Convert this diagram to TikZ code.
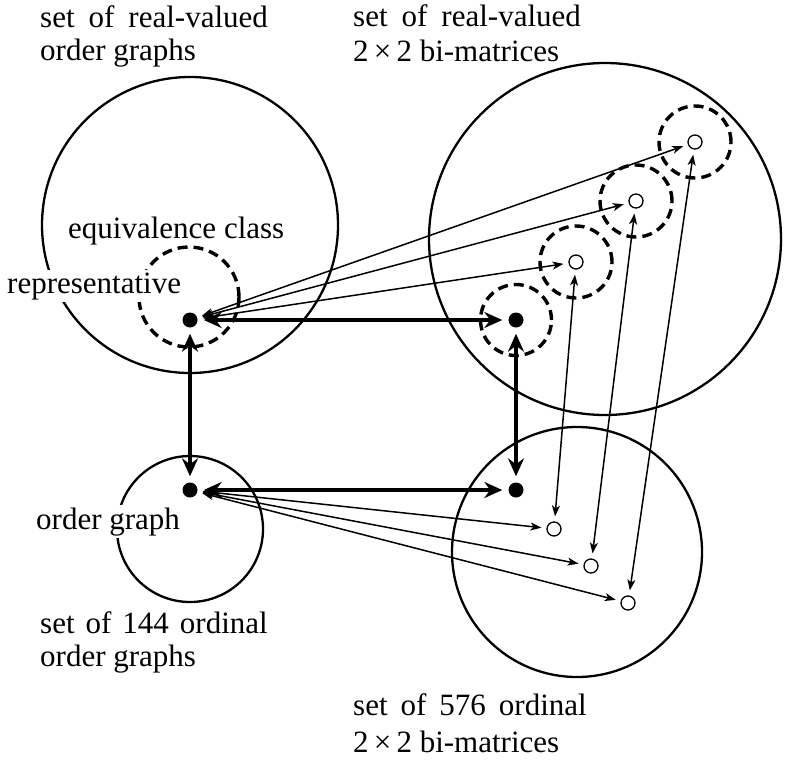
\documentclass[tikz,border=0pt]{standalone}
\usepackage{fontspec}
\setmainfont{Liberation Serif}
\usetikzlibrary{arrows.meta}
\newcommand{\wsp}[1]{\hspace{#1pt}}
\begin{document}
\begin{tikzpicture}[x=1pt,y=-1pt,
  setcirc/.style={circle,draw,line width=2.3pt,inner sep=0pt,minimum size=#1},
  eqcirc/.style={circle,draw,line width=3.4pt,dash pattern=on 10pt off 6pt,inner sep=0pt,minimum size=#1},
  fdot/.style={circle,fill,inner sep=0pt,minimum size=15pt},
  odot/.style={circle,draw,fill=white,line width=1.3pt,inner sep=0pt,minimum size=14pt},
  bigarrow/.style={line width=4.3pt,
    {Stealth[length=18pt,width=16pt,inset=6pt]}-{Stealth[length=18pt,width=16pt,inset=6pt]},
    shorten <=6pt,shorten >=6pt},
  thinarrow/.style={line width=1.5pt,
    {Stealth[length=11pt,width=8pt,inset=3pt]}-{Stealth[length=11pt,width=8pt,inset=3pt]},
    shorten <=5pt,shorten >=5pt},
  lab/.style={font=\fontsize{31}{34}\selectfont,inner sep=0pt,anchor=base west},
  wlab/.style={lab,fill=white,inner sep=2pt}
]
\useasboundingbox (0,0) rectangle (786,760);

% set circles
\node[setcirc=296pt] (S1) at (190,225) {};
\node[setcirc=352pt] (S2) at (605,239) {};
\node[setcirc=146pt] (S3) at (190,529) {};
\node[setcirc=250pt] (S4) at (577,552) {};

% equivalence classes
\node[eqcirc=100pt] (E0) at (189,297) {};
\node[eqcirc=71pt] (E1) at (516,320) {};
\node[eqcirc=72pt] (E2) at (576,262) {};
\node[eqcirc=72pt] (E3) at (636,201) {};
\node[eqcirc=72pt] (E4) at (695,142) {};

% points
\node[fdot] (rep) at (190,320) {};
\node[fdot] (tr) at (516,320) {};
\node[fdot] (og) at (190,490) {};
\node[fdot] (br) at (516,490) {};
\node[odot] (u1) at (576,262) {};
\node[odot] (u2) at (636,201) {};
\node[odot] (u3) at (695,142) {};
\node[odot] (l1) at (554,529) {};
\node[odot] (l2) at (591,566) {};
\node[odot] (l3) at (628,603) {};

% thin connectors
\draw[thinarrow] (rep) -- (u1);
\draw[thinarrow] (rep) -- (u2);
\draw[thinarrow] (rep) -- (u3);
\draw[thinarrow] (og) -- (l1);
\draw[thinarrow] (og) -- (l2);
\draw[thinarrow] (og) -- (l3);
\draw[thinarrow] (u1) -- (l1);
\draw[thinarrow] (u2) -- (l2);
\draw[thinarrow] (u3) -- (l3);

% thick connectors
\draw[bigarrow] (rep) -- (tr);
\draw[bigarrow] (rep) -- (og);
\draw[bigarrow] (tr) -- (br);
\draw[bigarrow] (og) -- (br);

% labels
\node[lab] (t1a) at (40,28) {set\wsp{14}of\wsp{14}real-valued};
\node[lab] (t1b) at (40,60) {order graphs};
\node[lab] (t2a) at (353,27) {set\wsp{14}of\wsp{14}real-valued};
\node[lab] (t2b) at (353,61) {2\,×\,2 bi-matrices};
\node[lab] (t3) at (68,238) {equivalence class};
\node[wlab] (t4) at (5,293) {representative};
\node[wlab] (t5) at (34,529) {order graph};
\node[lab] (t6a) at (40,633) {set\wsp{11}of\wsp{11}144\wsp{11}ordinal};
\node[lab] (t6b) at (40,666) {order graphs};
\node[lab] (t7a) at (353,715) {set\wsp{13}of\wsp{13}576\wsp{13}ordinal};
\node[lab] (t7b) at (353,752) {2\,×\,2 bi-matrices};
\end{tikzpicture}
\end{document}
